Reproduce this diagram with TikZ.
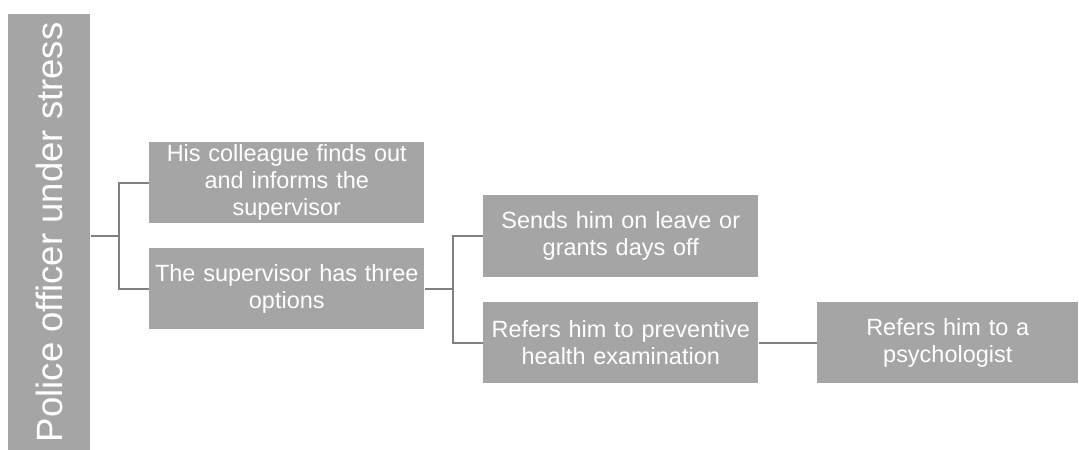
\documentclass[tikz,border=0pt]{standalone}
\usepackage{fontspec}
\setmainfont{Liberation Sans}
\definecolor{boxfill}{HTML}{A5A5A5}
\definecolor{linec}{HTML}{808080}
\begin{document}
\begin{tikzpicture}[x=0.75pt,y=-0.75pt,
  box/.style={fill=boxfill,draw=none,text=white,align=center,inner sep=0pt,
    font=\fontsize{17.6pt}{20.25pt}\selectfont},
  conn/.style={draw=linec,line width=1.5pt}]
\useasboundingbox (0,0) rectangle (1079,450);
\node[fill=boxfill,minimum width=82*0.75pt,minimum height=436*0.75pt,inner sep=0pt,
  anchor=north west] (root) at (8,14) {};
\node[text=white,rotate=90,font=\fontsize{27.4pt}{30pt}\selectfont,inner sep=0pt]
  (roott) at (root.center) {Police officer under stress};
\node[box,minimum width=275*0.75pt,minimum height=81*0.75pt,text width=270*0.75pt,anchor=north west]
  (b1) at (149,142) {His colleague finds out\\and informs the\\supervisor};
\node[box,minimum width=275*0.75pt,minimum height=81*0.75pt,text width=270*0.75pt,anchor=north west]
  (b2) at (149,248) {The supervisor has three\\options};
\node[box,minimum width=275*0.75pt,minimum height=82*0.75pt,text width=270*0.75pt,anchor=north west]
  (b3) at (483,195) {Sends him on leave or\\grants days off};
\node[box,minimum width=275*0.75pt,minimum height=81*0.75pt,text width=270*0.75pt,anchor=north west]
  (b4) at (483,302) {Refers him to preventive\\health examination};
\node[box,minimum width=261*0.75pt,minimum height=81*0.75pt,text width=256*0.75pt,anchor=north west]
  (b5) at (817,302) {Refers him to a\\psychologist};
\coordinate (j1) at (119,236);
\coordinate (j2) at (453,289);
\draw[conn] (root.east |- j1) -- (j1);
\draw[conn] (b1.west) -| (j1) |- (b2.west);
\draw[conn] (b2.east |- j2) -- (j2);
\draw[conn] (b3.west) -| (j2) |- (b4.west);
\draw[conn] (b4.east) -- (b5.west);
\end{tikzpicture}
\end{document}
